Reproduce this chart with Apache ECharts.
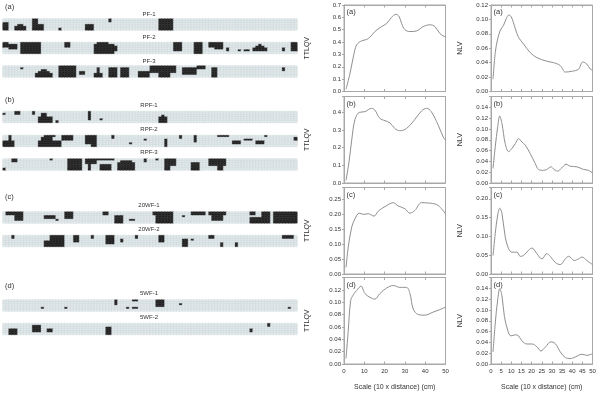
<!DOCTYPE html>
<html><head><meta charset="utf-8">
<script src="https://cdn.jsdelivr.net/npm/echarts@6/dist/echarts.min.js"></script>
<style>html,body{margin:0;padding:0;background:#fff}#c{width:600px;height:393px}</style>
</head><body><div id="c"></div><script>
// ---------- DATA ----------
const COLS = 100, ROWS = 6;
const groupLetters = ['(a)', '(b)', '(c)', '(d)'];
const stripNames = ['PF-1','PF-2','PF-3','RPF-1','RPF-2','RPF-3','20WF-1','20WF-2','5WF-1','5WF-2'];
// occupied cells as [colStart, colEnd, rowStart, rowEnd]
const PF1 = [[0,1,2,5],[4,7,4,5],[5,6,3,3],[10,11,0,2],[10,13,3,5],[19,19,5,5],[28,30,3,5],[36,36,0,1],[53,57,0,5]];
const PF2 = [[0,1,0,2],[2,4,1,3],[6,12,0,5],[21,22,0,2],[31,37,1,5],[32,35,0,0],[38,38,2,4],[58,60,0,4],[65,67,0,5],[70,71,0,2],[72,74,0,3],[76,76,3,4],[80,80,4,4],[82,82,4,4],[83,83,4,4],[85,89,3,4],[86,88,2,2],[87,87,1,1],[95,95,3,4],[98,99,0,4]];
const PF3 = [[6,6,1,1],[11,16,4,5],[12,15,3,3],[13,14,2,2],[19,24,0,5],[26,27,3,4],[31,33,4,5],[32,32,1,3],[36,38,1,5],[40,42,1,5],[46,49,3,5],[50,58,0,3],[53,56,4,5],[61,65,1,4],[66,68,0,1],[71,72,1,5],[95,95,1,2]];
const RPF1 = [[0,0,1,1],[4,5,0,1],[10,10,0,1],[12,16,3,5],[13,14,1,2],[18,18,5,5],[29,29,0,4],[33,33,4,4],[53,55,3,5],[54,54,2,2]];
const RPF2 = [[0,3,3,5],[2,2,0,2],[12,19,3,5],[13,16,1,2],[14,17,0,0],[20,23,0,2],[28,31,0,4],[30,31,5,5],[37,37,0,1],[43,43,4,4],[48,48,2,2],[55,55,2,5],[60,60,0,1],[65,65,0,3],[73,76,0,0],[78,80,3,4],[82,84,2,2],[86,88,3,4],[89,89,0,0],[99,99,1,2]];
const RPF3 = [[0,0,5,5],[3,4,0,1],[16,16,0,0],[22,26,0,5],[28,31,0,2],[29,29,3,5],[32,36,0,0],[33,36,3,5],[37,37,0,0],[39,44,2,5],[40,43,1,1],[48,48,0,1],[52,52,0,0],[55,56,0,5],[57,58,0,3],[64,66,2,5],[70,75,0,3],[73,74,4,5]];
const WF20_1 = [[1,6,0,1],[4,6,2,4],[14,17,2,3],[18,18,4,4],[21,23,0,3],[34,35,0,1],[38,40,2,5],[43,44,4,4],[51,57,0,1],[52,57,2,5],[61,61,2,2],[64,68,0,1],[70,75,0,1],[71,74,2,4],[84,85,0,1],[84,90,3,5],[88,90,0,5],[92,99,0,5]];
const WF20_2 = [[3,3,0,1],[14,20,3,5],[16,20,0,2],[24,25,0,3],[30,30,0,1],[35,37,0,4],[40,40,2,3],[45,45,0,1],[53,54,0,3],[61,62,2,5],[64,64,2,2],[70,71,0,1],[74,74,4,5],[79,79,4,5],[95,98,0,1]];
const WF5_1 = [[13,13,4,4],[21,21,4,4],[38,38,0,2],[42,42,4,4],[44,45,0,0],[44,45,4,4],[52,54,0,3],[60,60,2,2],[97,97,4,4]];
const WF5_2 = [[2,4,3,5],[10,12,1,4],[15,16,3,4],[35,36,2,5],[84,84,3,4],[90,90,0,1]];
const STRIPS = [PF1, PF2, PF3, RPF1, RPF2, RPF3, WF20_1, WF20_2, WF5_1, WF5_2];

// TTLQV curves
const TA_X = [1,3,4.6,6.2,8.7,11,12.8,15.2,18.5,21,23.4,25.6,27.2,28.4,30,32.5,35.7,39,42.3,44.8,47.2,50];
const TA_Y = [0.019,0.15,0.28,0.377,0.41,0.42,0.44,0.485,0.525,0.55,0.6,0.625,0.605,0.55,0.5,0.485,0.49,0.525,0.54,0.525,0.47,0.44];
const TB_X = [1,2.6,3.8,5.4,7.5,10.3,13.6,15.2,17.7,20.2,22.6,25,27.5,30.8,34.9,38.2,40.7,43,46.4,48.9,50];
const TB_Y = [0.015,0.13,0.243,0.36,0.40,0.404,0.423,0.413,0.366,0.353,0.341,0.309,0.296,0.309,0.36,0.408,0.423,0.404,0.328,0.26,0.243];
const TC_X = [1,2.1,3.8,5.4,7.5,9.5,12,14.8,16.9,20.2,24.3,26.7,30,32.5,34.9,38.2,41.5,45.6,48,50];
const TC_Y = [0.022,0.09,0.157,0.185,0.204,0.2,0.202,0.194,0.211,0.226,0.239,0.228,0.219,0.204,0.213,0.239,0.238,0.233,0.219,0.202];
const TD_X = [1,2.1,3.3,4.6,6.2,8.4,10.3,12.8,15.2,17.7,21,24.3,27.5,30.8,32.5,34.1,36.6,39.8,43.9,47.2,50];
const TD_Y = [0.009,0.054,0.103,0.112,0.119,0.126,0.114,0.108,0.105,0.114,0.123,0.127,0.124,0.124,0.114,0.089,0.080,0.079,0.084,0.088,0.092];
// NLV curves
const NA_X = [1,2.1,3.3,4.6,6.2,7.5,8.7,10,12,13.6,16,19.3,22.6,27.5,30.8,34.1,36.6,39.8,43.1,45.2,47.2,48.9,50];
const NA_Y = [0.017,0.054,0.073,0.085,0.092,0.101,0.106,0.1035,0.087,0.075,0.066,0.054,0.047,0.042,0.04,0.036,0.027,0.028,0.031,0.041,0.038,0.031,0.03];
const NB_X = [1,2.1,3.3,4.3,5.4,7,8.7,10.3,12,13.6,15.2,16.9,19.3,21.8,23.4,25.9,27.5,29.5,31.1,32.8,34.9,37,39,42.3,45.6,48,50];
const NB_Y = [0.027,0.067,0.104,0.124,0.11,0.073,0.058,0.064,0.073,0.082,0.076,0.07,0.0545,0.036,0.025,0.0235,0.025,0.03,0.025,0.022,0.028,0.0347,0.031,0.03,0.025,0.0235,0.0186];
const NC_X = [1,2.1,3.3,4.3,5.4,7,8.7,10.3,12.8,14.4,16,18.5,20.2,22.6,25.1,27.5,29.2,31.6,34.1,36.6,38.2,41,43.1,44.8,47.2,50];
const NC_Y = [0.049,0.108,0.157,0.175,0.161,0.099,0.067,0.058,0.058,0.047,0.049,0.063,0.069,0.054,0.04,0.054,0.047,0.031,0.025,0.04,0.047,0.036,0.04,0.045,0.036,0.025];
const ND_X = [1,2.1,3.3,4.3,5.4,6.6,8.2,9.8,12,13.6,15.2,17.7,20.2,22.6,24.6,26.7,29.5,31.6,34.1,36.6,39,41.5,44.8,47.2,50];
const ND_Y = [0.0225,0.0756,0.119,0.139,0.126,0.088,0.063,0.052,0.054,0.052,0.043,0.037,0.037,0.032,0.024,0.031,0.041,0.038,0.0225,0.012,0.01,0.013,0.018,0.016,0.019];

const TTLQV = [[TA_X,TA_Y],[TB_X,TB_Y],[TC_X,TC_Y],[TD_X,TD_Y]];
const NLV = [[NA_X,NA_Y],[NB_X,NB_Y],[NC_X,NC_Y],[ND_X,ND_Y]];
// y-axis scales [max, interval, decimals, last labelled value]
const T_AXES = [[0.7,0.1,1,0.7],[0.49,0.1,1,0.4],[0.29,0.05,2,0.25],[0.14,0.02,2,0.12]];
const N_AXES = [[0.12,0.02,2,0.12],[0.16,0.02,2,0.14],[0.23,0.05,2,0.20],[0.16,0.02,2,0.14]];
const X_TITLE = 'Scale (10 x distance) (cm)';

// ---------- LAYOUT ----------
const FONT = 'Liberation Sans, Arial, sans-serif';
const TXT = '#333';
const LINE = '#8f8f8f';
const BORDER = '#a8a8a8';
const stripTops = [19, 42.5, 66, 111.5, 135.5, 159, 212, 235.5, 300, 323.5];
const stripLabelY = [14.5, 37.5, 61, 105.5, 129.5, 152.5, 205.5, 229.5, 293.5, 317.5];
const groupLetterY = [7, 100, 197, 286];
const panelTops = [5, 96.5, 187.5, 277.5];
const PH = 86.5, PW = 101.5;
const colLeft = [344, 491];

const grid = [], xAxis = [], yAxis = [], series = [], graphic = [];
const colsCat = Array.from({length: COLS}, (_, i) => i);
const rowsCat = Array.from({length: ROWS}, (_, i) => i);

STRIPS.forEach((rects, i) => {
  const m = Array.from({length: ROWS}, () => new Array(COLS).fill(0));
  rects.forEach(([c0, c1, r0, r1]) => {
    for (let r = r0; r <= r1; r++) for (let c = c0; c <= c1; c++) m[r][c] = 1;
  });
  const data = [];
  for (let r = 0; r < ROWS; r++) for (let c = 0; c < COLS; c++) {
    data.push(m[r][c] ? {value: [c, r, 1], itemStyle: {borderColor: '#444'}} : [c, r, 0]);
  }
  grid.push({left: 3, top: stripTops[i], width: 294, height: 11});
  xAxis.push({type: 'category', gridIndex: i, data: colsCat, show: false});
  yAxis.push({type: 'category', gridIndex: i, data: rowsCat, inverse: true, show: false});
  series.push({type: 'heatmap', xAxisIndex: i, yAxisIndex: i, data, progressive: 0,
    itemStyle: {borderColor: '#c9d3d7', borderWidth: 0.35}, emphasis: {disabled: true}});
  graphic.push({type: 'text', x: 149, y: stripLabelY[i],
    style: {text: stripNames[i], font: '6px ' + FONT, fill: TXT, textAlign: 'center', textVerticalAlign: 'middle'}});
});
groupLetters.forEach((t, i) => {
  graphic.push({type: 'text', x: 5, y: groupLetterY[i],
    style: {text: t, font: '7.5px ' + FONT, fill: TXT, textAlign: 'left', textVerticalAlign: 'middle'}});
});

const nBase = STRIPS.length;
[TTLQV, NLV].forEach((set, col) => {
  const axes = col === 0 ? T_AXES : N_AXES;
  set.forEach(([xs, ys], row) => {
    const gi = grid.length;
    grid.push({left: colLeft[col], top: panelTops[row], width: PW, height: PH,
      show: true, borderColor: BORDER, borderWidth: 1, backgroundColor: 'transparent'});
    const last = row === 3;
    const xInt = col === 0 ? 10 : 5;
    xAxis.push({type: 'value', gridIndex: gi, min: 0, max: 50, interval: xInt, position: 'bottom',
      axisLine: {show: true, lineStyle: {color: BORDER}},
      axisTick: {show: true, inside: true, length: 2.5, lineStyle: {color: BORDER}},
      splitLine: {show: false},
      axisLabel: {show: last, fontSize: 6, color: TXT, fontFamily: FONT, margin: 4},
      name: last ? X_TITLE : '', nameLocation: 'middle', nameGap: 20,
      nameTextStyle: {fontSize: 7, color: TXT, fontFamily: FONT}});
    xAxis.push({type: 'value', gridIndex: gi, min: 0, max: 50, interval: xInt, position: 'top',
      axisLine: {show: true, lineStyle: {color: BORDER}},
      axisTick: {show: true, inside: true, length: 2.5, lineStyle: {color: BORDER}},
      splitLine: {show: false}, axisLabel: {show: false}});
    const [mx, iv, dec, topLab] = axes[row];
    yAxis.push({type: 'value', gridIndex: gi, min: 0, max: mx, interval: iv,
      axisLine: {show: true, lineStyle: {color: BORDER}},
      axisTick: {show: true, length: 2, lineStyle: {color: BORDER}},
      splitLine: {show: false},
      axisLabel: {fontSize: 6, color: TXT, fontFamily: FONT, margin: 3,
        formatter: v => (v > topLab + 1e-9 ? '' : v.toFixed(dec))},
      name: col === 0 ? 'TTLQV' : 'NLV', nameLocation: 'middle', nameRotate: 90,
      nameGap: col === 0 ? 33 : 27,
      nameTextStyle: {fontSize: 7, color: TXT, fontFamily: FONT}});
    series.push({type: 'line', xAxisIndex: xAxis.length - 2, yAxisIndex: yAxis.length - 1,
      data: xs.map((x, k) => [x, ys[k]]), smooth: 0.35, symbol: 'none',
      lineStyle: {color: LINE, width: 1}});
    graphic.push({type: 'text', x: colLeft[col] + 2.5, y: panelTops[row] + 3,
      style: {text: groupLetters[row], font: '7.5px ' + FONT, fill: TXT, textAlign: 'left', textVerticalAlign: 'top'}});
  });
});

const chart = echarts.init(document.getElementById('c'), null, {renderer: 'canvas'});
chart.setOption({
  animation: false,
  backgroundColor: '#fff',
  textStyle: {fontFamily: FONT},
  visualMap: {type: 'piecewise', show: false, seriesIndex: Array.from({length: nBase}, (_, i) => i), dimension: 2,
    pieces: [{value: 0, color: '#e4ebed'}, {value: 1, color: '#1f1f1f'}]},
  grid, xAxis, yAxis, series, graphic
});
</script></body></html>
